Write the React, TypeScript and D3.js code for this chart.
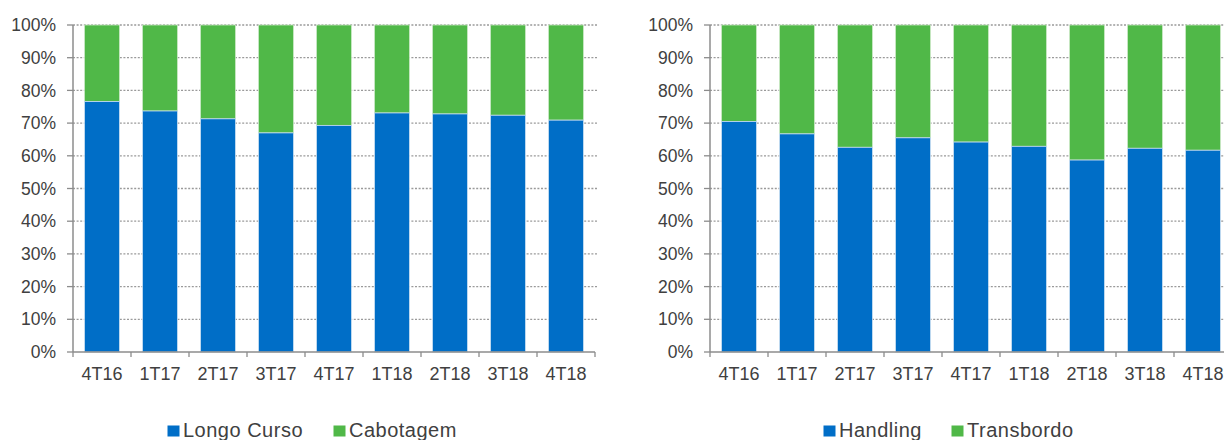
import React from "react";
import * as d3 from "d3";

const quarters = ["4T16", "1T17", "2T17", "3T17", "4T17", "1T18", "2T18", "3T18", "4T18"];
const longoCurso = [76.6, 73.7, 71.3, 67.0, 69.3, 73.1, 72.8, 72.4, 70.9];
const handling = [70.5, 66.7, 62.6, 65.5, 64.2, 62.9, 58.7, 62.3, 61.7];
const yTicks = [0, 10, 20, 30, 40, 50, 60, 70, 80, 90, 100];

const BLUE = "#006ec7";
const GREEN = "#50b848";
const TEXT = "#404040";
const AXIS = "#8c8c8c";

const top = 25;
const bottom = 352;

type PanelProps = {
  x0: number;
  values: number[];
  names: [string, string];
  legendX: [number, number];
};

const Panel = ({ x0, values, names, legendX }: PanelProps) => {
  const band = 58;
  const x = d3
    .scaleBand()
    .domain(quarters)
    .range([x0, x0 + band * quarters.length])
    .paddingInner(0.4)
    .paddingOuter(0.2);
  const y = d3.scaleLinear().domain([0, 100]).range([bottom, top]);
  const x1 = x0 + band * quarters.length;

  return (
    <g>
      {/* grid */}
      {yTicks.map((t) => (
        <g key={t}>
          {t > 0 && (
            <line
              x1={x0}
              x2={x1 + 2}
              y1={y(t)}
              y2={y(t)}
              stroke="#9a9a9a"
              strokeWidth={1.3}
              strokeDasharray="2 1.6"
            />
          )}
          <line x1={x0 - 6} x2={x0} y1={y(t)} y2={y(t)} stroke={AXIS} strokeWidth={1.3} />
          <text
            x={x0 - 17}
            y={y(t)}
            dy="0.35em"
            textAnchor="end"
            fontSize={17.5}
            fill={TEXT}
          >
            {t}%
          </text>
        </g>
      ))}

      {/* bars */}
      {quarters.map((q, i) => (
        <g key={q}>
          <rect
            x={x(q)}
            y={y(100)}
            width={x.bandwidth()}
            height={y(values[i]) - y(100)}
            fill={GREEN}
            stroke="#c8e6c4"
            strokeWidth={0.8}
          />
          <rect
            x={x(q)}
            y={y(values[i])}
            width={x.bandwidth()}
            height={y(0) - y(values[i])}
            fill={BLUE}
            stroke="#c6dcf0"
            strokeWidth={0.8}
          />
          <text
            x={(x(q) as number) + x.bandwidth() / 2}
            y={380}
            textAnchor="middle"
            fontSize={18}
            fill={TEXT}
          >
            {q}
          </text>
        </g>
      ))}

      {/* axes */}
      <line x1={x0} x2={x0} y1={top} y2={bottom} stroke={AXIS} strokeWidth={1.5} />
      <line x1={x0} x2={x1} y1={bottom} y2={bottom} stroke={AXIS} strokeWidth={1.5} />
      {d3.range(quarters.length + 1).map((i) => (
        <line
          key={i}
          x1={x0 + i * band}
          x2={x0 + i * band}
          y1={bottom}
          y2={bottom + 5}
          stroke={AXIS}
          strokeWidth={1.3}
        />
      ))}

      {/* legend */}
      <rect x={legendX[0]} y={425.5} width={12} height={11} fill={BLUE} />
      <text x={legendX[0] + 15.5} y={437} fontSize={20} letterSpacing={0.5} fill={TEXT}>
        {names[0]}
      </text>
      <rect x={legendX[1]} y={425.5} width={12} height={11} fill={GREEN} />
      <text x={legendX[1] + 15.5} y={437} fontSize={20} letterSpacing={0.5} fill={TEXT}>
        {names[1]}
      </text>
    </g>
  );
};

export default function App() {
  return (
    <svg
      width={1224}
      height={440}
      style={{ position: "absolute", left: 0, top: 0, background: "#fff" }}
      fontFamily="'Liberation Sans', Arial, sans-serif"
    >
      <Panel x0={73} values={longoCurso} names={["Longo Curso", "Cabotagem"]} legendX={[167.5, 333.5]} />
      <Panel x0={710} values={handling} names={["Handling", "Transbordo"]} legendX={[823.5, 951.5]} />
    </svg>
  );
}
